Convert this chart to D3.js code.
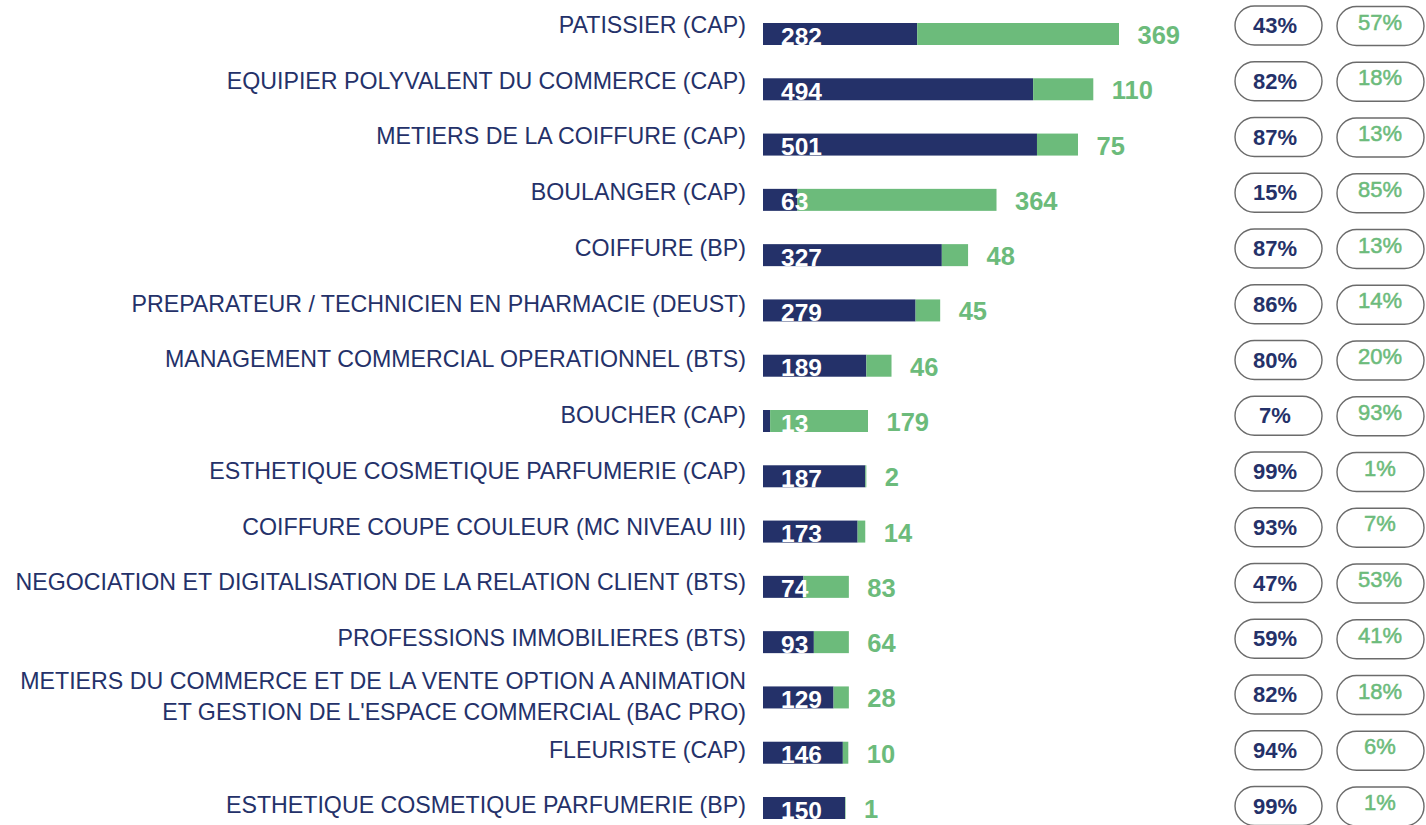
<!DOCTYPE html>
<html>
<head>
<meta charset="utf-8">
<script src="https://cdn.jsdelivr.net/npm/d3@7"></script>
<style>
  body { margin: 0; background: #fff; }
  svg { display: block; font-family: "Liberation Sans", Arial, sans-serif; }
</style>
</head>
<body>
<div id="chart"></div>
<script>
var labels = [
  ["PATISSIER (CAP)"],
  ["EQUIPIER POLYVALENT DU COMMERCE (CAP)"],
  ["METIERS DE LA COIFFURE (CAP)"],
  ["BOULANGER (CAP)"],
  ["COIFFURE (BP)"],
  ["PREPARATEUR / TECHNICIEN EN PHARMACIE (DEUST)"],
  ["MANAGEMENT COMMERCIAL OPERATIONNEL (BTS)"],
  ["BOUCHER (CAP)"],
  ["ESTHETIQUE COSMETIQUE PARFUMERIE (CAP)"],
  ["COIFFURE COUPE COULEUR (MC NIVEAU III)"],
  ["NEGOCIATION ET DIGITALISATION DE LA RELATION CLIENT (BTS)"],
  ["PROFESSIONS IMMOBILIERES (BTS)"],
  ["METIERS DU COMMERCE ET DE LA VENTE OPTION A ANIMATION", "ET GESTION DE L'ESPACE COMMERCIAL (BAC PRO)"],
  ["FLEURISTE (CAP)"],
  ["ESTHETIQUE COSMETIQUE PARFUMERIE (BP)"]
]
var blueVals = [282, 494, 501, 63, 327, 279, 189, 13, 187, 173, 74, 93, 129, 146, 150]
var greenVals = [369, 110, 75, 364, 48, 45, 46, 179, 2, 14, 83, 64, 28, 10, 1]
var bluePct = ["43%", "82%", "87%", "15%", "87%", "86%", "80%", "7%", "99%", "93%", "47%", "59%", "82%", "94%", "99%"]
var greenPct = ["57%", "18%", "13%", "85%", "13%", "14%", "20%", "93%", "1%", "7%", "53%", "41%", "18%", "6%", "1%"]

var navy = "#243169", green = "#6cbb7b"
var W = 1426, H = 825
var idx = d3.range(labels.length)

var svg = d3.select("#chart").append("svg").attr("width", W).attr("height", H)

// bars and the text/pills sit on slightly different row grids
var y = d3.scalePoint().domain(idx).range([34, 808])
var yPill = d3.scalePoint().domain(idx).range([25.5, 806])
var x = d3.scaleLinear().domain([0, 651]).range([763, 1119])
var barH = 22

// category labels
var lab = svg.append("g").selectAll("text").data(idx).enter().append("text")
  .attr("text-anchor", "end")
  .attr("fill", navy)
  .style("font-size", "23.2px")
lab.each(function (i) {
  var t = d3.select(this)
  var lines = labels[i]
  if (lines.length == 1) {
    t.append("tspan").attr("x", 746).attr("y", yPill(i) + 7.3).text(lines[0])
  } else {
    t.append("tspan").attr("x", 746).attr("y", yPill(i) - 5.5).text(lines[0])
    t.append("tspan").attr("x", 746).attr("y", yPill(i) + 25.5).text(lines[1])
  }
})

// stacked bars
var bars = svg.append("g")
bars.selectAll(".b").data(idx).enter().append("rect")
  .attr("x", x(0))
  .attr("y", d => y(d) - barH / 2)
  .attr("width", d => x(blueVals[d]) - x(0))
  .attr("height", barH)
  .attr("fill", navy)
bars.selectAll(".g").data(idx).enter().append("rect")
  .attr("x", d => x(blueVals[d]))
  .attr("y", d => y(d) - barH / 2)
  .attr("width", d => x(blueVals[d] + greenVals[d]) - x(blueVals[d]))
  .attr("height", barH)
  .attr("fill", green)

// values
svg.append("g").selectAll("text").data(idx).enter().append("text")
  .attr("x", 781)
  .attr("y", d => y(d) + 10.5)
  .attr("fill", "#fff")
  .style("font-size", "24.5px").style("font-weight", "bold")
  .text(d => blueVals[d])
svg.append("g").selectAll("text").data(idx).enter().append("text")
  .attr("x", d => x(blueVals[d] + greenVals[d]) + 18.5)
  .attr("y", d => y(d) + 10)
  .attr("fill", green)
  .style("font-size", "25.5px").style("font-weight", "bold")
  .text(d => greenVals[d])

// percentage pills
var pw = 87, ph = 39
var pills = svg.append("g")
pills.selectAll(".pb").data(idx).enter().append("rect")
  .attr("x", 1235).attr("y", d => yPill(d) - ph / 2)
  .attr("width", pw).attr("height", ph).attr("rx", ph / 2)
  .attr("fill", "none").attr("stroke", "#6b6b6b").attr("stroke-width", 1.4)
pills.selectAll(".pg").data(idx).enter().append("rect")
  .attr("x", 1337).attr("y", d => yPill(d) + 0.5 - ph / 2)
  .attr("width", pw).attr("height", ph).attr("rx", ph / 2)
  .attr("fill", "none").attr("stroke", "#6b6b6b").attr("stroke-width", 1.4)
pills.selectAll(".tb").data(idx).enter().append("text")
  .attr("x", 1275).attr("y", d => yPill(d) + 7.5)
  .attr("text-anchor", "middle").attr("fill", navy)
  .style("font-size", "22px").style("font-weight", "bold")
  .text(d => bluePct[d])
pills.selectAll(".tg").data(idx).enter().append("text")
  .attr("x", 1380).attr("y", d => yPill(d) + 4)
  .attr("text-anchor", "middle").attr("fill", green)
  .attr("stroke", green).attr("stroke-width", 0.5)
  .style("font-size", "22px")
  .text(d => greenPct[d])
</script>
</body>
</html>
